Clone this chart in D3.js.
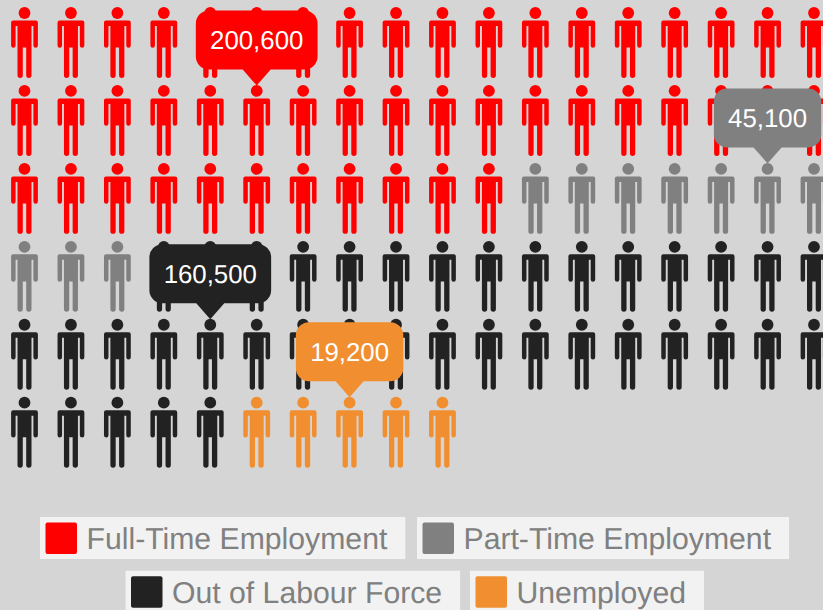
<!DOCTYPE html>
<html><head><meta charset="utf-8">
<script src="https://cdn.jsdelivr.net/npm/d3@7"></script>
<style>html,body{margin:0;padding:0;background:#d5d5d5;overflow:hidden}svg{display:block}text{text-rendering:geometricPrecision}</style>
</head><body><svg id="c" width="823" height="610"></svg>
<script>
const categories = ["Full-Time Employment","Part-Time Employment","Out of Labour Force","Unemployed"];
const values = [200600,45100,160500,19200];
const iconCounts = [47,10,38,5];
const colors = ["#ff0000","#808080","#222222","#f08e30"];
const calloutCols = [5,16,4,7];
const calloutRows = [1,2,4,5];
const columns = d3.range(18);
const rows = d3.range(6);
const font = "'Liberation Sans',Arial,sans-serif";

const svg = d3.select("#c");
svg.append("rect").attr("width",823).attr("height",610).attr("fill","#d5d5d5");

const x = d3.scalePoint().domain(columns).range([24.5,814]);
const y = d3.scalePoint().domain(rows).range([13,402.7]);

const person = "M-11.4,7.5H11.4A2,2 0 0 1 13.4,9.5V32.6A2.25,2.25 0 0 1 8.9,32.6V13H7V62.3A2.65,2.65 0 0 1 1.7,62.3V34.6H-1.7V62.3A2.65,2.65 0 0 1 -7,62.3V13H-8.9V32.6A2.25,2.25 0 0 1 -13.4,32.6V9.5A2,2 0 0 1 -11.4,7.5Z";

const icons = categories.flatMap((c,i)=>d3.range(iconCounts[i]).map(()=>i));
const g = svg.append("g").selectAll("g").data(icons).join("g")
  .attr("transform",(d,i)=>`translate(${x(i%18)},${y(Math.floor(i/18))})`)
  .attr("fill",d=>colors[d]);
g.append("circle").attr("r",5.9);
g.append("path").attr("d",person);

const fmt = d3.format(",");
const tips = svg.append("g").selectAll("g").data(categories).join("g")
  .attr("transform",(d,i)=>`translate(${x(calloutCols[i])},${y(calloutRows[i])-5.5})`);
tips.each(function(d,i){
  const t = d3.select(this);
  const txt = t.append("text").attr("x",0).attr("y",-36).attr("text-anchor","middle")
    .attr("font-family",font).attr("font-size",25.8).attr("fill","#fff").text(fmt(values[i]));
  const w = txt.node().getComputedTextLength()+28.5;
  const h = 59, r = 13, top = -75, bot = top+h, aw = 14;
  const p = d3.path();
  p.moveTo(-w/2+r,top); p.lineTo(w/2-r,top); p.arcTo(w/2,top,w/2,top+r,r);
  p.lineTo(w/2,bot-r); p.arcTo(w/2,bot,w/2-r,bot,r);
  p.lineTo(aw,bot); p.lineTo(0,0); p.lineTo(-aw,bot);
  p.lineTo(-w/2+r,bot); p.arcTo(-w/2,bot,-w/2,bot-r,r);
  p.lineTo(-w/2,top+r); p.arcTo(-w/2,top,-w/2+r,top,r); p.closePath();
  t.insert("path","text").attr("d",p.toString()).attr("fill",colors[i]);
});

const legendRows = [[0,1],[2,3]];
const legendY = [517,570.7];
const legendX = [[40,417],[125.5,470]];
const legendH = 42, pad = 5.5, sw = 31.5, tGap = 9.5;
const legendFont = 30.2;
legendRows.forEach((row,ri)=>{
  row.forEach((i,k)=>{
    const tmp = svg.append("text").attr("font-family",font).attr("font-size",legendFont).text(categories[i]);
    const tw = tmp.node().getComputedTextLength(); tmp.remove();
    const w = pad+sw+tGap+tw+18;
    const l = svg.append("g").attr("transform",`translate(${legendX[ri][k]},${legendY[ri]})`);
    l.append("rect").attr("width",w).attr("height",legendH).attr("fill","#f2f2f2");
    l.append("rect").attr("x",pad).attr("y",pad).attr("width",sw).attr("height",sw).attr("rx",2).attr("fill",colors[i]);
    l.append("text").attr("x",pad+sw+tGap).attr("y",32).attr("font-family",font).attr("font-size",legendFont).attr("fill","#808080").text(categories[i]);
  });
});
</script></body></html>
